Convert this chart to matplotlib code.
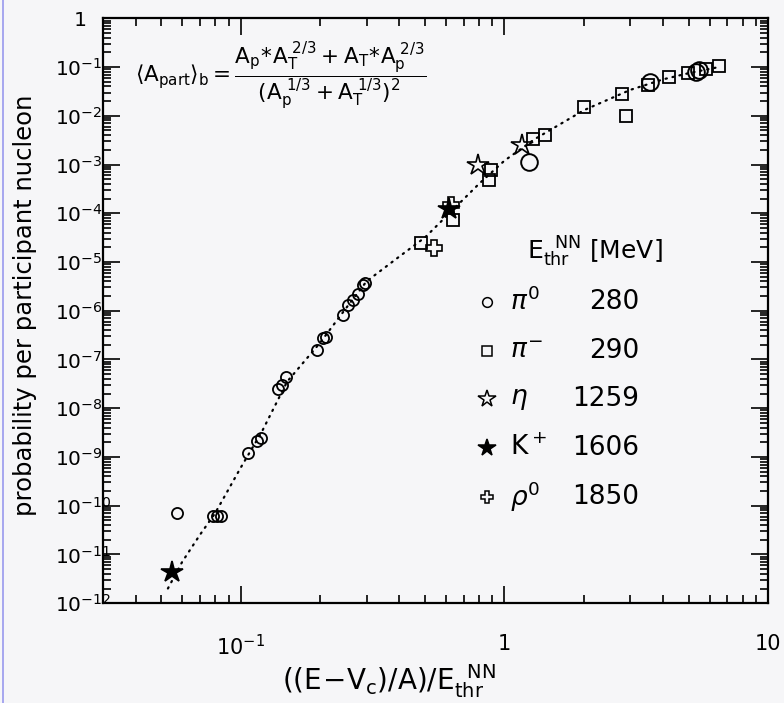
import numpy as np
import matplotlib
matplotlib.use("Agg")
import matplotlib.pyplot as plt
from matplotlib.ticker import LogLocator, FuncFormatter, NullFormatter
from matplotlib.lines import Line2D

plt.rcParams['font.family'] = ['DejaVu Sans']
plt.rcParams['mathtext.fontset'] = 'dejavusans'

# pi0 (open circles)
pi0_x = [0.0575, 0.0784, 0.0814, 0.0843, 0.107, 0.115, 0.119, 0.138, 0.144, 0.149,
         0.194, 0.205, 0.210, 0.244, 0.255, 0.266, 0.278, 0.292, 0.297]
pi0_y = [7.1e-11, 6.1e-11, 6.1e-11, 6.1e-11, 1.18e-9, 2.1e-9, 2.5e-9, 2.5e-8, 3.0e-8, 4.3e-8,
         1.55e-7, 2.7e-7, 2.9e-7, 8.1e-7, 1.3e-6, 1.65e-6, 2.2e-6, 3.3e-6, 3.7e-6]
# pi0, larger circles
pi0b_x = [1.24, 3.56, 5.31, 5.47]
pi0b_y = [1.1e-3, 4.9e-2, 7.9e-2, 8.6e-2]
# pi- (open squares)
pim_x = [0.482, 0.636, 0.888, 0.875, 1.28, 1.43, 2.0, 2.78, 2.88, 3.50, 4.22, 4.94, 5.79, 6.5]
pim_y = [2.4e-5, 7.4e-5, 7.6e-4, 4.9e-4, 3.4e-3, 4.0e-3, 1.5e-2, 2.85e-2, 1.0e-2, 4.3e-2,
         6.1e-2, 7.5e-2, 9.3e-2, 1.04e-1]
# eta (open stars)
eta_x = [0.791, 1.17]
eta_y = [9.7e-4, 2.5e-3]
# K+ (filled stars)
kp_x = [0.0548, 0.617]
kp_y = [4.4e-12, 1.25e-4]
# rho0 (open crosses)
rho_x = [0.542, 0.625]
rho_y = [1.9e-5, 1.5e-4]

# dotted guide curve
curve_x = [0.053, 0.06, 0.07, 0.08, 0.1, 0.12, 0.15, 0.2, 0.25, 0.3, 0.4, 0.5, 0.6,
           0.8, 1.0, 1.3, 2.0, 3.0, 4.0, 5.0, 6.5]
curve_y = [2.0e-12, 7.0e-12, 2.5e-11, 7.0e-11, 6.0e-10, 3.2e-9, 3.5e-8, 2.2e-7, 1.1e-6,
           4.0e-6, 1.3e-5, 3.2e-5, 8.5e-5, 4.0e-4, 1.2e-3, 3.3e-3, 1.3e-2, 3.4e-2,
           5.6e-2, 7.5e-2, 1.0e-1]

# legend content
leg_names = [r'$\pi^0$', r'$\pi^{-}$', r'$\eta$', r'$\mathrm{K}^+$', r'$\rho^0$']
leg_values = ['280', '290', '1259', '1606', '1850']

bg = '#f6f6f8'
fig = plt.figure(figsize=(7.84, 7.03), dpi=100, facecolor=bg)
ax = fig.add_axes([0.131, 0.142, 0.849, 0.832], facecolor=bg)

ax.plot(curve_x, curve_y, color='black', lw=1.6, ls=(0, (0.6, 2.6)),
        dash_capstyle='round')
ax.plot(pi0_x, pi0_y, 'o', ms=8, mfc='none', mec='black', mew=1.3)
ax.plot(pi0b_x, pi0b_y, 'o', ms=12, mfc='none', mec='black', mew=1.4)
ax.plot(pim_x, pim_y, 's', ms=8.5, mfc='none', mec='black', mew=1.3)
ax.plot(eta_x, eta_y, '*', ms=16, mfc='none', mec='black', mew=1.2)
ax.plot(kp_x, kp_y, '*', ms=16, mfc='black', mec='black', mew=1.2)
ax.plot(rho_x, rho_y, 'P', ms=11, mfc='none', mec='black', mew=1.2)

ax.set_xscale('log')
ax.set_yscale('log')
ax.set_xlim(0.03, 10)
ax.set_ylim(1e-12, 1)


def fmt(v, pos):
    e = int(round(np.log10(v)))
    if e == 0:
        return '1'
    if e == 1:
        return '10'
    return r'$10^{%d}$' % e


def yfmt(v, pos):
    e = int(round(np.log10(v)))
    if e == 0:
        return '   1'
    return r'$10^{%d}$' % e


for axis, n, f in ((ax.xaxis, 10, fmt), (ax.yaxis, 20, yfmt)):
    axis.set_major_locator(LogLocator(base=10, numticks=n))
    axis.set_minor_locator(LogLocator(base=10, subs=np.arange(2, 10), numticks=100))
    axis.set_major_formatter(FuncFormatter(f))
    axis.set_minor_formatter(NullFormatter())

ax.tick_params(which='both', direction='in', top=True, right=True, width=1.2)
ax.tick_params(which='major', length=12)
ax.tick_params(which='minor', length=6)
ax.tick_params(axis='y', which='major', labelsize=14.5, pad=34)
ax.tick_params(axis='x', which='major', labelsize=15, pad=22)
for lab in ax.get_yticklabels():
    lab.set_horizontalalignment('left')
for s in ax.spines.values():
    s.set_linewidth(1.6)

ax.set_ylabel('probability per participant nucleon', fontsize=17.5)
ax.yaxis.set_label_coords(-0.098, 0.51)
ax.set_xlabel(r'$((\mathrm{E}\!-\!\mathrm{V_c})/\mathrm{A})/\mathrm{E_{thr}^{\ \ NN}}$', fontsize=20)
ax.xaxis.set_label_coords(0.43, -0.1)

# formula
ax.text(0.048, 0.901,
        r'$\langle \mathrm{A_{part}}\rangle_\mathrm{b} = '
        r'\dfrac{\mathrm{A_p}\!*\!\mathrm{A_T^{\ 2/3}}+\mathrm{A_T}\!*\!\mathrm{A_p^{\ 2/3}}}'
        r'{(\mathrm{A_p^{\ 1/3}}+\mathrm{A_T^{\ 1/3}})^2}$',
        transform=ax.transAxes, fontsize=15.5, va='center', ha='left')

# legend block
ax.text(0.638, 0.600, r'$\mathrm{E_{thr}^{\ \ NN}}$ [MeV]', transform=ax.transAxes,
        fontsize=18, va='center', ha='left')
leg_markers = [dict(marker='o', ms=7, mfc='none'), dict(marker='s', ms=7, mfc='none'),
               dict(marker='*', ms=13, mfc='none'), dict(marker='*', ms=13, mfc='black'),
               dict(marker='P', ms=9, mfc='none')]
row_y = 0.515
for name, val, mk in zip(leg_names, leg_values, leg_markers):
    ax.add_line(Line2D([0.577], [row_y], transform=ax.transAxes, ls='none',
                       mec='black', mew=1.1, **mk))
    ax.text(0.612, row_y, name, transform=ax.transAxes, fontsize=19,
            va='center', ha='left')
    ax.text(0.806, row_y, val, transform=ax.transAxes, fontsize=19,
            va='center', ha='right')
    row_y -= 0.0832

fig.add_artist(Line2D([0.004, 0.004], [0.0, 1.0], transform=fig.transFigure,
                      color='#9999ee', lw=1.2))

fig.savefig('out.png', dpi=100, facecolor=bg)
